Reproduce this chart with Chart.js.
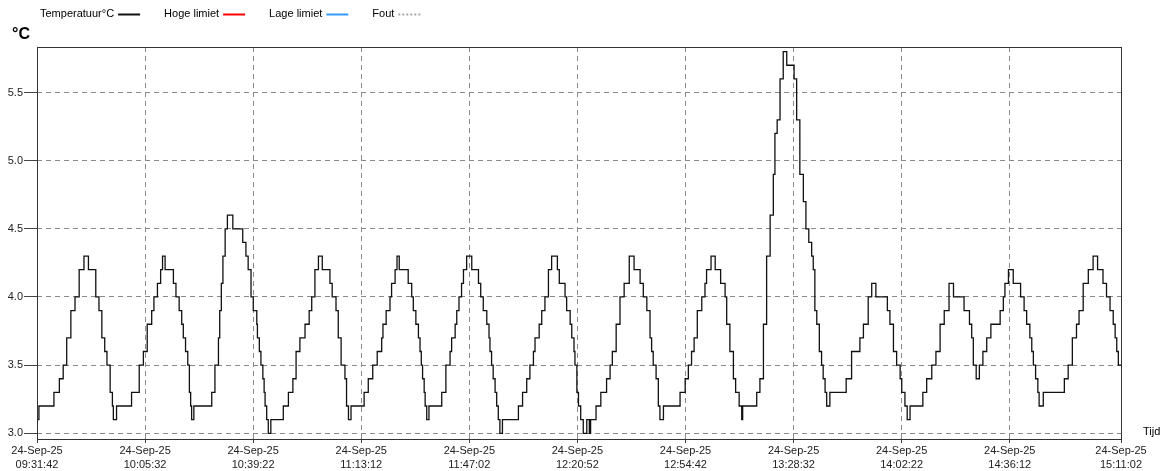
<!DOCTYPE html>
<html>
<head>
<meta charset="utf-8">
<title>Temperatuur</title>
<script src="https://cdn.jsdelivr.net/npm/chart.js@4.4.1/dist/chart.umd.min.js"></script>
<style>
  html, body { margin: 0; padding: 0; background: #fff; }
  #wrap { position: relative; width: 1170px; height: 471px; }
</style>
</head>
<body>
<div id="wrap"><canvas id="tempChart"></canvas></div>
<script>
// x axis: minutes since the first sample (24-Sep-25 09:31:42)
const startDate = '24-Sep-25';
const tickTimes = ['09:31:42', '10:05:32', '10:39:22', '11:13:12', '11:47:02', '12:20:52',
                   '12:54:42', '13:28:32', '14:02:22', '14:36:12', '15:11:02'];
const yTicks = [3.0, 3.5, 4.0, 4.5, 5.0, 5.5];

// change points of the logged temperature: at tempMinutes[i] the reading becomes tempValues[i]
const tempMinutes = [
  0, 0.6, 5.3, 7.0, 8.2, 9.3, 10.6, 11.9, 13.2, 14.7, 16.1, 18.4, 19.4, 20.3, 21.2, 21.9, 22.9, 23.6, 23.9, 24.9,
  29.6, 32.0, 33.3, 34.5, 35.9, 36.6, 37.7, 38.7, 39.3, 40.1, 42.7, 43.5, 44.5, 45.3, 45.8, 46.5, 47.2, 47.7, 48.1, 48.4, 49.1,
  54.7, 55.7, 56.8, 57.2, 57.7, 58.2, 58.9, 59.6, 61.3, 64.4, 65.4, 66.1, 67.0, 67.7, 68.8, 69.0, 69.6, 70.1, 70.7, 71.1, 71.4, 71.9, 72.4, 73.2,
  77.1, 78.7, 80.1, 81.1, 82.3, 83.9, 85.2, 86.0, 87.0, 88.1, 89.3, 91.7, 92.4, 93.6, 94.3, 95.2, 96.4, 96.9, 97.5, 98.3,
  102.4, 103.7, 105.1, 106.5, 107.9, 108.3, 109.3, 110.5, 111.0, 112.1, 112.7, 113.4, 116.2, 117.3, 117.8, 118.6, 119.4, 119.9, 120.3, 120.7, 121.2, 121.5, 122.0, 122.7,
  126.7, 128.0, 129.3, 129.8, 130.9, 131.4, 132.1, 132.9, 133.5, 134.5, 136.1, 138.2, 138.9, 139.7, 140.8, 141.5, 141.8, 142.3, 142.8, 143.4, 143.9, 144.4, 144.9, 145.7,
  150.7, 152.0, 153.3, 154.3, 155.4, 155.9, 157.2, 158.0, 159.0, 160.1, 161.1, 162.9, 163.5, 165.3, 165.8, 166.9, 167.4, 168.1, 168.4, 169.0, 169.5, 170.2, 171.0, 172.1, 172.9, 173.3,
  175.0, 176.5, 178.3, 179.4, 180.1, 181.3, 182.5, 183.8, 185.4, 186.9, 188.8, 189.8, 190.9, 191.9, 192.4, 192.9, 193.8, 194.5, 195.0, 196.1,
  201.3, 202.9, 203.9, 204.9, 205.7, 206.7, 208.1, 209.1, 209.6, 211.0, 212.3, 214.0, 215.4, 215.9, 216.9, 218.0, 218.7, 219.8, 220.6, 220.9,
  225.3, 226.3, 227.4, 228.4, 229.5, 230.5, 231.0, 231.7, 232.6, 233.6, 234.7, 237.0, 237.8, 238.8, 239.9, 240.7, 241.6, 242.5, 243.0, 243.5, 244.1, 244.9, 245.6, 246.1, 246.7, 247.2, 248.2,
  253.3, 255.0, 257.6, 258.7, 260.2, 261.3, 262.6, 266.2, 267.0, 268.1, 269.1, 270.2, 270.7, 271.7, 272.4, 273.3,
  277.3, 278.5, 280.1, 281.4, 282.7, 284.0, 285.5, 286.9, 290.2, 291.9, 292.6, 293.1, 294.0, 295.0, 296.1, 297.3, 298.6, 301.5, 302.5, 303.0, 304.1, 305.6, 307.9, 309.0, 309.8, 310.8, 311.4, 311.9, 312.6, 313.3, 313.7, 315.0,
  321.6, 322.8, 324.1, 325.4, 326.2, 327.5, 329.1, 330.6, 332.0, 333.7, 334.8, 335.9, 336.9, 337.5, 338.0, 338.5, 339.0, 339.33
];
const tempValues = [
  3.2, 3.1, 3.2, 3.3, 3.4, 3.5, 3.7, 3.9, 4.0, 4.2, 4.3, 4.2, 4.0, 3.9, 3.7, 3.6, 3.5, 3.3, 3.2, 3.1,
  3.2, 3.3, 3.5, 3.6, 3.8, 3.9, 4.0, 4.1, 4.2, 4.3, 4.2, 4.1, 4.0, 3.9, 3.8, 3.7, 3.6, 3.5, 3.3, 3.2, 3.1,
  3.2, 3.3, 3.5, 3.7, 3.9, 4.1, 4.3, 4.5, 4.6, 4.5, 4.4, 4.3, 4.2, 4.0, 3.9, 3.8, 3.7, 3.6, 3.5, 3.4, 3.3, 3.2, 3.1, 3.0,
  3.1, 3.2, 3.3, 3.4, 3.6, 3.7, 3.8, 3.9, 4.0, 4.2, 4.3, 4.2, 4.1, 4.0, 3.9, 3.7, 3.5, 3.4, 3.2, 3.1,
  3.2, 3.3, 3.4, 3.5, 3.6, 3.7, 3.8, 3.9, 4.0, 4.1, 4.2, 4.3, 4.2, 4.1, 4.0, 3.9, 3.8, 3.7, 3.6, 3.5, 3.4, 3.3, 3.2, 3.1,
  3.2, 3.3, 3.5, 3.6, 3.7, 3.8, 3.9, 4.0, 4.1, 4.2, 4.3, 4.2, 4.1, 4.0, 3.9, 3.8, 3.7, 3.6, 3.5, 3.4, 3.3, 3.2, 3.1, 3.0,
  3.1, 3.2, 3.3, 3.4, 3.5, 3.6, 3.7, 3.8, 3.9, 4.0, 4.2, 4.3, 4.2, 4.1, 4.0, 3.9, 3.8, 3.7, 3.6, 3.5, 3.3, 3.2, 3.1, 3.0, 3.1, 3.0,
  3.1, 3.2, 3.3, 3.4, 3.5, 3.6, 3.8, 4.0, 4.1, 4.3, 4.2, 4.1, 4.0, 3.9, 3.7, 3.6, 3.5, 3.4, 3.2, 3.1,
  3.2, 3.3, 3.4, 3.5, 3.6, 3.7, 3.9, 4.0, 4.1, 4.2, 4.3, 4.2, 4.1, 4.0, 3.8, 3.6, 3.4, 3.3, 3.2, 3.1,
  3.2, 3.3, 3.4, 3.8, 4.3, 4.6, 4.9, 5.2, 5.3, 5.6, 5.8, 5.7, 5.6, 5.3, 4.9, 4.7, 4.5, 4.4, 4.3, 4.2, 3.9, 3.8, 3.6, 3.5, 3.4, 3.3, 3.2,
  3.3, 3.4, 3.6, 3.7, 3.8, 4.0, 4.1, 4.0, 3.9, 3.8, 3.6, 3.5, 3.4, 3.3, 3.2, 3.1,
  3.2, 3.3, 3.4, 3.5, 3.6, 3.8, 3.9, 4.1, 4.0, 3.9, 3.8, 3.7, 3.5, 3.4, 3.5, 3.6, 3.7, 3.8, 3.9, 4.0, 4.1, 4.2, 4.1, 4.0, 3.9, 3.8, 3.7, 3.6, 3.5, 3.4, 3.3, 3.2,
  3.3, 3.4, 3.5, 3.7, 3.8, 3.9, 4.1, 4.2, 4.3, 4.2, 4.1, 4.0, 3.9, 3.8, 3.7, 3.6, 3.5, 3.5
];

const FONT = '"Liberation Sans", Arial, sans-serif';

function toSeconds(t) {
  const [h, m, s] = t.split(':').map(Number);
  return h * 3600 + m * 60 + s;
}
const tickMinutes = tickTimes.map(t => (toSeconds(t) - toSeconds(tickTimes[0])) / 60);

// legend, frame and the two axis captions
const overlayPlugin = {
  id: 'overlay',
  afterDraw(chart) {
    const ctx = chart.ctx;
    const area = chart.chartArea;
    ctx.save();

    ctx.strokeStyle = '#333';
    ctx.lineWidth = 1;
    ctx.setLineDash([]);
    ctx.strokeRect(Math.round(area.left) + 0.5, Math.round(area.top) + 0.5,
                   Math.round(area.right - area.left), Math.round(area.bottom - area.top));

    ctx.font = '11px ' + FONT;
    ctx.textBaseline = 'middle';
    let x = 40;
    chart.data.datasets.forEach(ds => {
      ctx.fillStyle = '#000';
      ctx.fillText(ds.label, x, 14);
      x += ctx.measureText(ds.label).width + 4;
      ctx.strokeStyle = ds.borderColor;
      ctx.lineWidth = 2;
      ctx.setLineDash(ds.borderDash || []);
      ctx.beginPath();
      ctx.moveTo(x, 14.5);
      ctx.lineTo(x + 22, 14.5);
      ctx.stroke();
      ctx.setLineDash([]);
      x += 22 + 24;
    });

    ctx.fillStyle = '#000';
    ctx.font = 'bold 16px ' + FONT;
    ctx.fillText('°C', 12, 35);

    ctx.font = '11px ' + FONT;
    ctx.fillText('Tijd', 1143, 432);
    ctx.restore();
  }
};

new Chart(document.getElementById('tempChart'), {
  type: 'line',
  data: {
    datasets: [
      {
        label: 'Temperatuur°C',
        data: tempMinutes.map((m, i) => ({ x: m, y: tempValues[i] })),
        borderColor: '#111',
        borderWidth: 1.3,
        pointRadius: 0,
        stepped: 'after',
        fill: false
      },
      { label: 'Hoge limiet', data: [], borderColor: '#ff0000', pointRadius: 0 },
      { label: 'Lage limiet', data: [], borderColor: '#3399ff', pointRadius: 0 },
      { label: 'Fout', data: [], borderColor: '#a8a8a8', borderDash: [2, 2], pointRadius: 0 }
    ]
  },
  options: {
    responsive: true,
    maintainAspectRatio: false,
    animation: false,
    layout: { padding: { top: 47, right: 49, left: 0, bottom: 0 } },
    plugins: {
      legend: { display: false },
      tooltip: { enabled: false }
    },
    scales: {
      x: {
        type: 'linear',
        min: 0,
        max: tickMinutes[tickMinutes.length - 1],
        afterBuildTicks: (scale) => { scale.ticks = tickMinutes.map(v => ({ value: v })); },
        afterFit: (scale) => { scale.height = 32; },
        ticks: {
          autoSkip: false,
          maxRotation: 0,
          padding: 1,
          color: '#222',
          font: { family: FONT, size: 11, lineHeight: 1.3 },
          callback: (value, index) => [startDate, tickTimes[index]]
        },
        grid: { color: '#8a8a8a', lineWidth: 1, tickLength: 4, tickColor: '#444' },
        border: { display: false, dash: [5, 4] }
      },
      y: {
        min: 2.958,
        max: 5.834,
        afterBuildTicks: (scale) => { scale.ticks = yTicks.map(v => ({ value: v })); },
        afterFit: (scale) => { scale.width = 37; },
        ticks: {
          padding: 1,
          color: '#222',
          font: { family: FONT, size: 11 },
          callback: (value) => value.toFixed(1)
        },
        grid: { color: '#8a8a8a', lineWidth: 1, tickLength: 13, tickColor: '#444', tickBorderDash: [] },
        border: { display: false, dash: [5, 4] }
      }
    }
  },
  plugins: [overlayPlugin]
});
</script>
</body>
</html>
